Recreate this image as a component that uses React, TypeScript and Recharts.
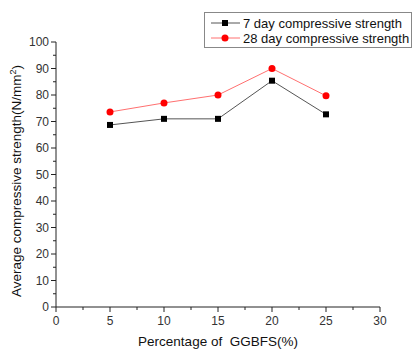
import { LineChart, Line, XAxis, YAxis, Label } from "recharts";

const pct = [5, 10, 15, 20, 25];
const day7 = [68.7, 71, 71, 85.4, 72.7];
const day28 = [73.6, 77, 80, 90, 79.7];
const xTicks = [0, 2.5, 5, 7.5, 10, 12.5, 15, 17.5, 20, 22.5, 25, 27.5, 30];
const yTicks = [0, 5, 10, 15, 20, 25, 30, 35, 40, 45, 50, 55, 60, 65, 70, 75, 80, 85, 90, 95, 100];

const data = pct.map((p, i) => ({ pct: p, d7: day7[i], d28: day28[i] }));

const FONT = "Liberation Sans, Arial, sans-serif";
const AXIS = "#222";

// ticks drawn by hand so minor ticks can be shorter than major ones
const XTick = (props: any) => {
  const { x, y, payload } = props;
  const major = payload.value % 5 === 0;
  return (
    <g>
      <line x1={x} x2={x} y1={y} y2={y + (major ? 5 : 3)} stroke={AXIS} />
      {major && (
        <text x={x} y={y + 18} textAnchor="middle" fontSize={12} fill="#333" fontFamily={FONT}>
          {payload.value}
        </text>
      )}
    </g>
  );
};

const YTick = (props: any) => {
  const { x, y, payload } = props;
  const major = payload.value % 10 === 0;
  return (
    <g>
      <line x1={x - (major ? 5 : 3)} x2={x} y1={y} y2={y} stroke={AXIS} />
      {major && (
        <text x={x - 7} y={y + 4} textAnchor="end" fontSize={12} fill="#333" fontFamily={FONT}>
          {payload.value}
        </text>
      )}
    </g>
  );
};

const Square = (props: any) => {
  const { cx, cy } = props;
  return <rect x={cx - 3} y={cy - 3} width={6} height={6} fill="#000" />;
};

const Dot = (props: any) => {
  const { cx, cy } = props;
  return <circle cx={cx} cy={cy} r={3.5} fill="#ff0000" />;
};

function LegendBox() {
  return (
    <div
      style={{
        position: "absolute",
        left: 204,
        top: 12,
        width: 206,
        height: 34,
        border: "1px solid #888",
        background: "#fff",
      }}
    >
      <svg width={206} height={34} style={{ position: "absolute", left: 0, top: 0 }}>
        <line x1={6} x2={35} y1={10} y2={10} stroke="#555" />
        <rect x={17} y={7} width={6} height={6} fill="#000" />
        <text x={38} y={14.5} fontSize={13} fontFamily={FONT} fill="#111">7 day compressive strength</text>
        <line x1={6} x2={35} y1={25} y2={25} stroke="#ff7070" />
        <circle cx={20} cy={25} r={3.5} fill="#ff0000" />
        <text x={38} y={29.5} fontSize={13} fontFamily={FONT} fill="#111">28 day compressive strength</text>
      </svg>
    </div>
  );
}

export default function App() {
  return (
    <div style={{ position: "absolute", left: 0, top: 0, width: 412, height: 349, background: "#fff" }}>
      <LineChart width={412} height={349} data={data} margin={{ top: 42, right: 32, left: 0, bottom: 0 }}>
        <XAxis
          dataKey="pct"
          type="number"
          domain={[0, 30]}
          ticks={xTicks}
          interval={0}
          tickLine={false}
          tickSize={0}
          tickMargin={0}
          tick={<XTick />}
          height={42}
          stroke={AXIS}
        >
          <Label
            content={() => (
              <text x={218} y={346} textAnchor="middle" fontSize={13.5} fontFamily={FONT} fill="#111" xmlSpace="preserve" style={{ whiteSpace: "pre" }}>
                {"Percentage of  GGBFS(%)"}
              </text>
            )}
          />
        </XAxis>
        <YAxis
          type="number"
          domain={[0, 100]}
          ticks={yTicks}
          interval={0}
          tickLine={false}
          tickSize={0}
          tickMargin={0}
          tick={<YTick />}
          width={56}
          stroke={AXIS}
        >
          <Label
            content={() => (
              <text
                x={21}
                y={181}
                transform="rotate(-90 21 181)"
                textAnchor="middle"
                fontSize={13.5}
                fontFamily={FONT}
                fill="#111"
              >
                Average compressive strength(N/mm
                <tspan baselineShift="super" fontSize={9}>2</tspan>
                <tspan>)</tspan>
              </text>
            )}
          />
        </YAxis>
        <Line dataKey="d7" stroke="#555" strokeWidth={1} dot={<Square />} isAnimationActive={false} />
        <Line dataKey="d28" stroke="#ff7070" strokeWidth={1} dot={<Dot />} isAnimationActive={false} />
      </LineChart>
      <LegendBox />
    </div>
  );
}
